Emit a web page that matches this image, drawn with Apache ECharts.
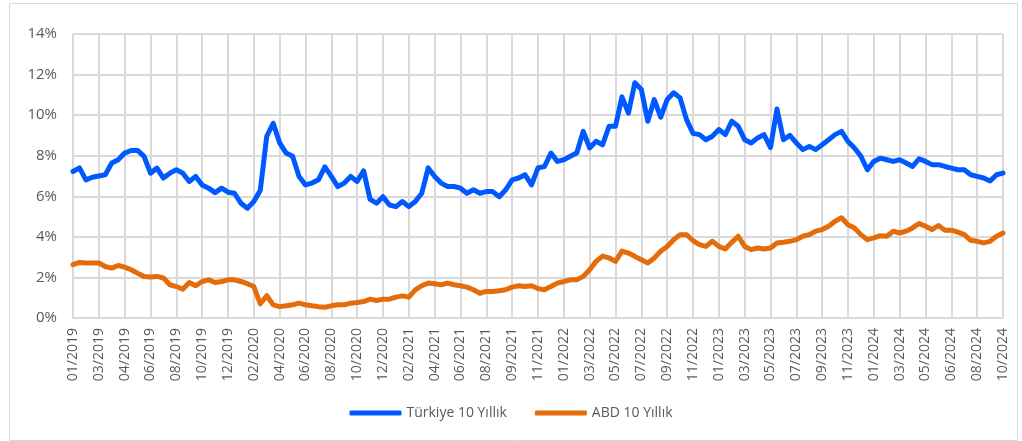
<!DOCTYPE html>
<html>
<head>
<meta charset="utf-8">
<script src="https://cdn.jsdelivr.net/npm/echarts@6/dist/echarts.min.js"></script>
<style>
html,body{margin:0;padding:0;background:#fff;}
#c{width:1022px;height:441px;}
</style>
</head>
<body>
<div id="c"></div>
<script>
// Tick labels (one per x gridline)
const tickLabels = ['01/2019','03/2019','04/2019','06/2019','08/2019','10/2019','12/2019','02/2020','04/2020','06/2020','08/2020','10/2020','12/2020','02/2021','04/2021','06/2021','08/2021','09/2021','11/2021','01/2022','03/2022','05/2022','07/2022','09/2022','11/2022','01/2023','03/2023','05/2023','07/2023','09/2023','11/2023','01/2024','03/2024','05/2024','06/2024','08/2024','10/2024'];
const stepsPerTick = 4;

const seriesNames = ['Türkiye 10 Yıllık', 'ABD 10 Yıllık'];

// Türkiye 10Y yield (%), 4 readings per tick interval
const turkiye = [
7.22,7.4,6.81,6.94, 7.0,7.06,7.64,7.8, 8.13,8.26,8.26,7.97, 7.14,7.39,6.9,7.14,
7.31,7.14,6.73,6.98, 6.56,6.4,6.18,6.4, 6.2,6.15,5.66,5.41, 5.74,6.3,8.96,9.6,
8.63,8.13,7.97,6.98, 6.56,6.65,6.81,7.45, 6.98,6.48,6.65,6.98, 6.73,7.25,5.85,5.66,
5.98,5.57,5.49,5.74, 5.49,5.74,6.15,7.4, 6.98,6.65,6.48,6.48, 6.4,6.15,6.32,6.15,
6.23,6.23,5.98,6.32, 6.81,6.9,7.06,6.56, 7.4,7.47,8.13,7.72, 7.8,7.97,8.13,9.2,
8.38,8.71,8.54,9.45, 9.45,10.9,10.1,11.6, 11.27,9.7,10.77,9.9, 10.77,11.1,10.85,9.78,
9.1,9.04,8.79,8.96, 9.29,9.04,9.7,9.45, 8.79,8.63,8.87,9.04, 8.4,10.3,8.79,9.0,
8.63,8.3,8.46,8.3, 8.54,8.79,9.04,9.2, 8.7,8.38,7.97,7.31, 7.72,7.88,7.8,7.72,
7.8,7.64,7.47,7.85, 7.72,7.56,7.56,7.47, 7.39,7.31,7.31,7.06, 6.98,6.9,6.75,7.06,
7.14
];

// ABD (US) 10Y yield (%)
const abd = [
2.63,2.74,2.71,2.71, 2.71,2.54,2.46,2.59, 2.51,2.38,2.21,2.05, 2.02,2.05,1.97,1.64,
1.55,1.42,1.75,1.59, 1.8,1.88,1.75,1.8, 1.88,1.88,1.8,1.69, 1.55,0.7,1.1,0.65,
0.56,0.6,0.65,0.73, 0.65,0.6,0.56,0.53, 0.6,0.65,0.65,0.73, 0.76,0.81,0.93,0.86,
0.93,0.93,1.03,1.09, 1.03,1.39,1.59,1.72, 1.69,1.64,1.72,1.64, 1.59,1.52,1.39,1.22,
1.31,1.31,1.34,1.39, 1.52,1.59,1.55,1.59, 1.45,1.39,1.55,1.72, 1.8,1.88,1.88,2.05,
2.38,2.79,3.05,2.96, 2.79,3.3,3.2,3.04, 2.87,2.71,2.96,3.29, 3.53,3.86,4.11,4.11,
3.82,3.62,3.53,3.78, 3.53,3.4,3.73,4.03, 3.53,3.37,3.45,3.4, 3.45,3.7,3.73,3.78,
3.86,4.03,4.11,4.28, 4.36,4.52,4.77,4.94, 4.6,4.44,4.11,3.86, 3.95,4.06,4.03,4.28,
4.19,4.28,4.44,4.66, 4.52,4.36,4.56,4.33, 4.33,4.23,4.11,3.83, 3.78,3.7,3.78,4.03,
4.19
];

const yTicks = {min: 0, max: 14, interval: 2};

// build categories: each tick label followed by sub-steps
const categories = [];
for (let i = 0; i < tickLabels.length - 1; i++) {
  for (let k = 0; k < stepsPerTick; k++) categories.push(tickLabels[i] + '|' + k);
}
categories.push(tickLabels[tickLabels.length - 1] + '|0');

const font = "'Open Sans', 'Noto Sans', sans-serif";
const grey = '#595959';
const gridGrey = '#d9d9d9';

const chart = echarts.init(document.getElementById('c'), null, {renderer: 'canvas'});
chart.setOption({
  animation: false,
  backgroundColor: '#fff',
  graphic: [{
    type: 'rect', left: 7, top: 1, silent: true,
    shape: {width: 1008, height: 437},
    style: {fill: 'none', stroke: gridGrey, lineWidth: 1}
  }],
  grid: {left: 73, right: 19, top: 34, bottom: 123, containLabel: false},
  legend: {
    bottom: 16, left: 'center',
    itemWidth: 52, itemHeight: 5, itemGap: 28,
    icon: 'roundRect',
    textStyle: {color: grey, fontSize: 14, fontFamily: font},
    data: seriesNames
  },
  xAxis: {
    type: 'category',
    data: categories,
    boundaryGap: false,
    axisLine: {lineStyle: {color: gridGrey, width: 2}},
    axisTick: {show: false},
    axisLabel: {
      interval: stepsPerTick - 1,
      rotate: 90,
      margin: 10,
      color: grey, fontSize: 14, fontFamily: font,
      formatter: v => v.split('|')[0]
    },
    splitLine: {show: true, interval: stepsPerTick - 1, lineStyle: {color: gridGrey, width: 2}}
  },
  yAxis: {
    type: 'value',
    min: yTicks.min, max: yTicks.max, interval: yTicks.interval,
    axisLine: {show: false},
    axisTick: {show: false},
    axisLabel: {color: grey, fontSize: 15, fontFamily: font, margin: 16, formatter: '{value}%'},
    splitLine: {lineStyle: {color: gridGrey, width: 2}}
  },
  series: [
    {name: seriesNames[0], type: 'line', data: turkiye, showSymbol: false, symbol: 'none',
     lineStyle: {width: 5, color: '#0058ff', join: 'round', cap: 'round'}, itemStyle: {color: '#0058ff'}},
    {name: seriesNames[1], type: 'line', data: abd, showSymbol: false, symbol: 'none',
     lineStyle: {width: 5, color: '#e46c0a', join: 'round', cap: 'round'}, itemStyle: {color: '#e46c0a'}}
  ]
});
</script>
</body>
</html>
